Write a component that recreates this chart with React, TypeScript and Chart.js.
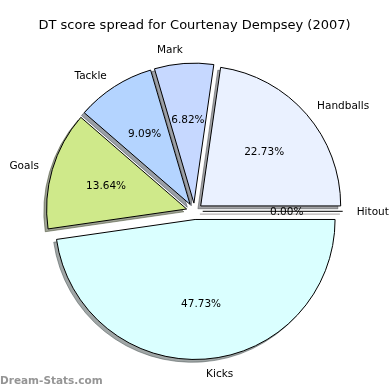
import React, { useEffect, useRef } from "react";
import { Chart, registerables } from "chart.js";

Chart.register(...registerables);

// ---- data (matplotlib order: counter-clockwise from 3 o'clock) ----
const categories = ["Handballs", "Mark", "Tackle", "Goals", "Kicks", "Hitout"];
const shares = [22.73, 6.82, 9.09, 13.64, 47.73, 0];
const sliceColors = ["#eaf1ff", "#c6d8ff", "#b4d4ff", "#cfe98a", "#daffff", "#ffd8d8"];
const titleText = "DT score spread for Courtenay Dempsey (2007)";
const watermarkText = "Dream-Stats.com";

// ---- style constants ----
const EXPLODE = 8.2;
const SHADOW = 2.8;
const RADIUS = 140;
const TEXT_SHIFT = 1;
const FONT = "'DejaVu Sans', sans-serif";

function shadowOf(hex: string): string {
  const n = parseInt(hex.slice(1), 16);
  const r = Math.round(((n >> 16) & 255) * 0.3);
  const g = Math.round(((n >> 8) & 255) * 0.3);
  const b = Math.round((n & 255) * 0.3);
  return `rgba(${r},${g},${b},0.5)`;
}

// Chart.js draws clockwise, so reverse to mimic matplotlib's counter-clockwise order
const chartLabels = [...categories].reverse();
const chartValues = [...shares].reverse();
const chartColors = [...sliceColors].reverse();
const chartShadows = chartColors.map(shadowOf);

const pieDecor = {
  id: "pieDecor",
  beforeDatasetDraw(chart: any, args: any) {
    const ctx = chart.ctx;
    const meta = chart.getDatasetMeta(args.index);
    const arcs = meta.data as any[];
    // shadows
    arcs.forEach((el, i) => {
      const mid = (el.startAngle + el.endAngle) / 2;
      const dx = Math.cos(mid) * EXPLODE - SHADOW;
      const dy = Math.sin(mid) * EXPLODE + SHADOW;
      ctx.save();
      ctx.translate(dx, dy);
      if (el.circumference === 0) {
        ctx.strokeStyle = chartShadows[i];
        ctx.lineWidth = 1;
        ctx.beginPath();
        ctx.moveTo(el.x, el.y);
        ctx.lineTo(el.x + Math.cos(mid) * el.outerRadius, el.y + Math.sin(mid) * el.outerRadius);
        ctx.stroke();
      } else {
        const o = el.options;
        el.options = { ...o, backgroundColor: chartShadows[i], borderColor: chartShadows[i], borderWidth: 1 };
        el.draw(ctx);
        el.options = o;
      }
      ctx.restore();
    });
    // wedges
    arcs.forEach((el) => {
      const mid = (el.startAngle + el.endAngle) / 2;
      ctx.save();
      ctx.translate(Math.cos(mid) * EXPLODE, Math.sin(mid) * EXPLODE);
      if (el.circumference === 0) {
        ctx.strokeStyle = "#000";
        ctx.lineWidth = 1;
        ctx.beginPath();
        ctx.moveTo(el.x, el.y);
        ctx.lineTo(el.x + Math.cos(mid) * el.outerRadius, el.y + Math.sin(mid) * el.outerRadius);
        ctx.stroke();
      } else {
        el.draw(ctx);
      }
      ctx.restore();
    });
    return false;
  },
  afterDatasetsDraw(chart: any) {
    const ctx = chart.ctx;
    const meta = chart.getDatasetMeta(0);
    const values = chart.data.datasets[0].data as number[];
    const total = values.reduce((a: number, b: number) => a + b, 0);
    ctx.save();
    ctx.fillStyle = "#000";
    ctx.font = `10.5px ${FONT}`;
    ctx.textBaseline = "middle";
    (meta.data as any[]).forEach((el, i) => {
      const mid = (el.startAngle + el.endAngle) / 2;
      const c = Math.cos(mid), s = Math.sin(mid);
      const ex = el.x + c * EXPLODE, ey = el.y + s * EXPLODE;
      const r = el.outerRadius;
      const lx = ex + 1.1 * r * c;
      const ly = ey + 1.1 * r * s + TEXT_SHIFT;
      ctx.textAlign = lx - el.x > 0 ? "left" : "right";
      ctx.fillText(chart.data.labels[i], lx, ly);
      ctx.textAlign = "center";
      const pct = ((values[i] / total) * 100).toFixed(2) + "%";
      ctx.fillText(pct, ex + 0.6 * r * c, ey + 0.6 * r * s + TEXT_SHIFT);
    });
    // watermark
    ctx.fillStyle = "#959595";
    ctx.font = `bold 10.5px ${FONT}`;
    ctx.textAlign = "left";
    ctx.textBaseline = "alphabetic";
    ctx.fillText(watermarkText, 0, 384);
    ctx.restore();
  },
};

export default function App() {
  const ref = useRef<HTMLCanvasElement | null>(null);
  useEffect(() => {
    document.body.style.margin = "0";
    const canvas = ref.current;
    if (!canvas) return;
    const chart = new Chart(canvas, {
      type: "pie",
      data: {
        labels: chartLabels,
        datasets: [
          {
            data: chartValues,
            backgroundColor: chartColors,
            borderColor: "#000",
            borderWidth: 1,
            borderJoinStyle: "miter",
            rotation: 90,
            radius: RADIUS,
          } as any,
        ],
      },
      options: {
        responsive: false,
        animation: false,
        events: [],
        devicePixelRatio: 1,
        layout: { padding: { top: 0, left: 0, right: 1, bottom: 1 } },
        plugins: {
          legend: { display: false },
          tooltip: { enabled: false },
          title: {
            display: true,
            text: titleText,
            color: "#000",
            font: { size: 13, weight: "normal", family: FONT },
            padding: { top: 18, bottom: 0 },
          },
        },
      } as any,
      plugins: [pieDecor],
    });
    return () => chart.destroy();
  }, []);
  return (
    <div style={{ position: "absolute", left: 0, top: 0, width: 390, height: 390, background: "#fff" }}>
      <canvas ref={ref} width={390} height={390} />
    </div>
  );
}
